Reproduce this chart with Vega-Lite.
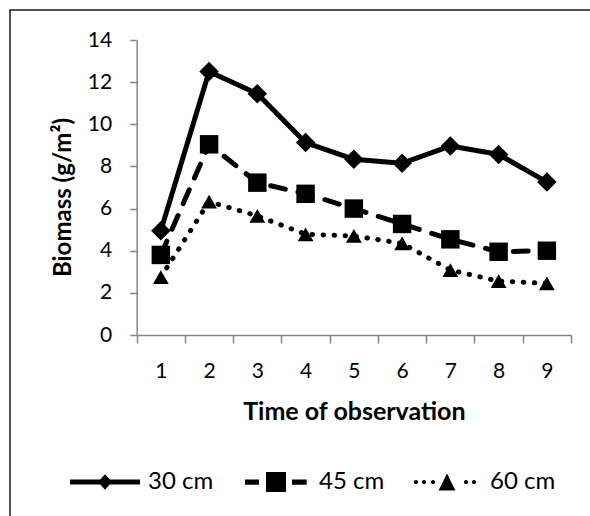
{
  "$schema": "https://vega.github.io/schema/vega-lite/v6.json",
  "autosize": {"type": "none"},
  "width": 582,
  "height": 508,
  "padding": {"left": 10, "top": 10, "right": 0, "bottom": 0},
  "background": "white",
  "config": {
    "font": "Lato",
    "view": {"stroke": "#1a1a1a", "strokeWidth": 1.5}
  },
  "data": {
    "values": [
      {"t": 1, "v": 4.95, "s": "30 cm"},
      {"t": 2, "v": 12.5, "s": "30 cm"},
      {"t": 3, "v": 11.45, "s": "30 cm"},
      {"t": 4, "v": 9.13, "s": "30 cm"},
      {"t": 5, "v": 8.34, "s": "30 cm"},
      {"t": 6, "v": 8.15, "s": "30 cm"},
      {"t": 7, "v": 8.97, "s": "30 cm"},
      {"t": 8, "v": 8.57, "s": "30 cm"},
      {"t": 9, "v": 7.26, "s": "30 cm"},
      {"t": 1, "v": 3.8, "s": "45 cm"},
      {"t": 2, "v": 9.05, "s": "45 cm"},
      {"t": 3, "v": 7.23, "s": "45 cm"},
      {"t": 4, "v": 6.7, "s": "45 cm"},
      {"t": 5, "v": 6.0, "s": "45 cm"},
      {"t": 6, "v": 5.27, "s": "45 cm"},
      {"t": 7, "v": 4.54, "s": "45 cm"},
      {"t": 8, "v": 3.95, "s": "45 cm"},
      {"t": 9, "v": 4.0, "s": "45 cm"},
      {"t": 1, "v": 2.75, "s": "60 cm"},
      {"t": 2, "v": 6.33, "s": "60 cm"},
      {"t": 3, "v": 5.65, "s": "60 cm"},
      {"t": 4, "v": 4.78, "s": "60 cm"},
      {"t": 5, "v": 4.7, "s": "60 cm"},
      {"t": 6, "v": 4.35, "s": "60 cm"},
      {"t": 7, "v": 3.08, "s": "60 cm"},
      {"t": 8, "v": 2.56, "s": "60 cm"},
      {"t": 9, "v": 2.45, "s": "60 cm"}
    ]
  },
  "encoding": {
    "x": {
      "field": "t",
      "type": "ordinal",
      "scale": {"type": "band", "range": [126.7, 561], "paddingInner": 0, "paddingOuter": 0},
      "axis": {
        "orient": "bottom",
        "offset": -183,
        "tickBand": "extent",
        "labelAngle": 0,
        "labelFontSize": 21,
        "labelColor": "black",
        "labelPadding": 17,
        "tickSize": 8,
        "tickColor": "#868686",
        "tickWidth": 1.5,
        "domainColor": "#868686",
        "domainWidth": 1.5,
        "grid": false,
        "title": "Time of observation",
        "titleFontSize": 25,
        "titleFontWeight": "bold",
        "titleColor": "black",
        "titleBaseline": "alphabetic",
        "titleY": 84
      }
    },
    "y": {
      "field": "v",
      "type": "quantitative",
      "scale": {"domain": [0, 14], "range": [325, 30], "nice": false, "zero": true},
      "axis": {
        "orient": "left",
        "offset": -126.7,
        "values": [0, 2, 4, 6, 8, 10, 12, 14],
        "labelFontSize": 21,
        "labelColor": "black",
        "labelPadding": 18,
        "tickSize": 7,
        "tickColor": "#868686",
        "tickWidth": 1.5,
        "domainColor": "#868686",
        "domainWidth": 1.5,
        "grid": false,
        "title": "Biomass (g/m²)",
        "titleFontSize": 24,
        "titleFontWeight": "bold",
        "titleColor": "black",
        "titleAngle": -90,
        "titleAlign": "center",
        "titleBaseline": "middle",
        "titleX": -73,
        "titleY": 187
      }
    }
  },
  "resolve": {"scale": {"shape": "independent"}, "legend": {"shape": "independent"}},
  "layer": [
    {
      "mark": {"type": "line", "color": "black", "strokeWidth": 5, "strokeCap": "round", "strokeJoin": "round", "clip": false},
      "encoding": {
        "detail": {"field": "s", "type": "nominal"},
        "strokeDash": {
          "field": "s",
          "type": "nominal",
          "scale": {"domain": ["60 cm", "45 cm", "30 cm"], "range": [[0.5, 10.5], [15, 13], [1, 0]]},
          "legend": null
        }
      }
    },
    {
      "mark": {"type": "point", "filled": true, "color": "black", "opacity": 1, "clip": false},
      "encoding": {
        "shape": {
          "field": "s",
          "type": "nominal",
          "scale": {"domain": ["60 cm", "30 cm", "45 cm"], "range": ["triangle-up", "diamond", "square"]},
          "legend": null
        },
        "size": {
          "field": "s",
          "type": "nominal",
          "scale": {"type": "ordinal", "domain": ["45 cm", "30 cm", "60 cm"], "range": [340, 380, 250]},
          "legend": null
        }
      }
    },
    {
      "mark": {"type": "point", "filled": true, "color": "black", "opacity": 0, "size": 1, "clip": false},
      "encoding": {
        "shape": {
          "field": "s",
          "type": "nominal",
          "scale": {
            "domain": ["30 cm", "45 cm", "60 cm"],
            "range": [
              "M-1,-0.07H1V0.07H-1Z M0,-0.22L0.2,0L0,0.22L-0.2,0Z",
              "M-0.886,-0.075H-0.486V0.075H-0.886Z M-0.286,-0.286H0.286V0.286H-0.286Z M0.457,-0.075H0.877V0.075H0.457Z",
              "M-0.946,0a0.06,0.06 0 1,0 0.12,0a0.06,0.06 0 1,0 -0.12,0Z M-0.717,0a0.06,0.06 0 1,0 0.12,0a0.06,0.06 0 1,0 -0.12,0Z M-0.46,0a0.06,0.06 0 1,0 0.12,0a0.06,0.06 0 1,0 -0.12,0Z M0.483,0a0.06,0.06 0 1,0 0.12,0a0.06,0.06 0 1,0 -0.12,0Z M0.711,0a0.06,0.06 0 1,0 0.12,0a0.06,0.06 0 1,0 -0.12,0Z M0,-0.24L0.24,0.24H-0.24Z"
            ]
          },
          "legend": {
            "title": null,
            "orient": "none",
            "legendX": 60,
            "legendY": 437,
            "direction": "horizontal",
            "padding": 0,
            "symbolSize": 4900,
            "symbolFillColor": "black",
            "symbolStrokeColor": "black",
            "symbolStrokeWidth": 0,
            "symbolOpacity": 1,
            "labelFontSize": 24,
            "labelColor": "black",
            "labelOffset": 8,
            "columnPadding": 27
          }
        }
      }
    }
  ]
}
